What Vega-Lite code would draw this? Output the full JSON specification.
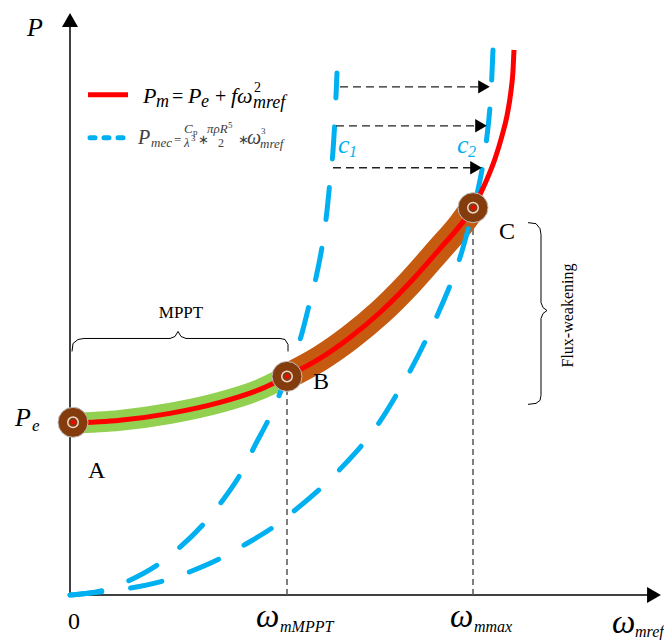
{
  "$schema": "https://vega.github.io/schema/vega-lite/v6.json",
  "width": 664,
  "height": 640,
  "autosize": {"type": "fit", "contains": "padding"},
  "padding": 0,
  "background": "white",
  "config": {"view": {"stroke": null}},
  "datasets": {
    "axes": [{"x": 0, "y": 0, "x2": 0, "y2": 570}, {"x": 0, "y": 0, "x2": 578, "y2": 0}],
    "yHead": [{"x": 0, "y": 576}],
    "xHead": [{"x": 584, "y": 0}],
    "guides": [{"x": 217, "y": 0, "y2": 219}, {"x": 403, "y": 0, "y2": 388}],
    "red": [
      {"x": 0, "y": 172}, {"x": 50, "y": 175}, {"x": 100, "y": 182}, {"x": 150, "y": 193},
      {"x": 190, "y": 206}, {"x": 217, "y": 219}, {"x": 250, "y": 237}, {"x": 280, "y": 258},
      {"x": 310, "y": 283}, {"x": 340, "y": 313}, {"x": 370, "y": 347}, {"x": 390, "y": 370},
      {"x": 403, "y": 388}, {"x": 415, "y": 412}, {"x": 425, "y": 437}, {"x": 432, "y": 460},
      {"x": 437, "y": 480}, {"x": 441, "y": 505}, {"x": 443, "y": 525}, {"x": 444, "y": 546}
    ],
    "blue": [
      {"curve": "c1", "x": 0, "y": 0}, {"curve": "c1", "x": 20, "y": 2}, {"curve": "c1", "x": 38, "y": 6},
      {"curve": "c1", "x": 58, "y": 14}, {"curve": "c1", "x": 90, "y": 32}, {"curve": "c1", "x": 110, "y": 48},
      {"curve": "c1", "x": 136, "y": 74}, {"curve": "c1", "x": 152, "y": 94}, {"curve": "c1", "x": 172, "y": 124},
      {"curve": "c1", "x": 184, "y": 148}, {"curve": "c1", "x": 201, "y": 181}, {"curve": "c1", "x": 217, "y": 220},
      {"curve": "c1", "x": 223, "y": 236}, {"curve": "c1", "x": 231, "y": 259}, {"curve": "c1", "x": 240, "y": 294},
      {"curve": "c1", "x": 246, "y": 318}, {"curve": "c1", "x": 253, "y": 355}, {"curve": "c1", "x": 257, "y": 385},
      {"curve": "c1", "x": 260, "y": 415}, {"curve": "c1", "x": 263, "y": 445}, {"curve": "c1", "x": 265, "y": 478},
      {"curve": "c1", "x": 266, "y": 500}, {"curve": "c1", "x": 267, "y": 523},
      {"curve": "c2", "x": 0, "y": 0}, {"curve": "c2", "x": 20, "y": 2}, {"curve": "c2", "x": 37, "y": 4},
      {"curve": "c2", "x": 60, "y": 7}, {"curve": "c2", "x": 96, "y": 15}, {"curve": "c2", "x": 119, "y": 23},
      {"curve": "c2", "x": 153, "y": 38}, {"curve": "c2", "x": 174, "y": 50}, {"curve": "c2", "x": 206, "y": 70},
      {"curve": "c2", "x": 225, "y": 85}, {"curve": "c2", "x": 270, "y": 126}, {"curve": "c2", "x": 310, "y": 174},
      {"curve": "c2", "x": 329, "y": 205}, {"curve": "c2", "x": 342, "y": 228}, {"curve": "c2", "x": 358, "y": 260},
      {"curve": "c2", "x": 369, "y": 284}, {"curve": "c2", "x": 383, "y": 318}, {"curve": "c2", "x": 390, "y": 338},
      {"curve": "c2", "x": 398, "y": 366}, {"curve": "c2", "x": 403, "y": 386}, {"curve": "c2", "x": 408, "y": 406},
      {"curve": "c2", "x": 412, "y": 426}, {"curve": "c2", "x": 416, "y": 452}, {"curve": "c2", "x": 419, "y": 478},
      {"curve": "c2", "x": 421, "y": 503}, {"curve": "c2", "x": 423, "y": 546}
    ],
    "arrows": [
      {"x": 270, "x2": 414, "y": 509, "hx": 414},
      {"x": 266, "x2": 411, "y": 470, "hx": 411},
      {"x": 263, "x2": 406, "y": 428, "hx": 406}
    ],
    "braces": [
      {"brace": "mppt", "i": 0, "x": 2, "y": 244}, {"brace": "mppt", "i": 1, "x": 3, "y": 252},
      {"brace": "mppt", "i": 2, "x": 8, "y": 256}, {"brace": "mppt", "i": 3, "x": 14, "y": 257},
      {"brace": "mppt", "i": 4, "x": 100, "y": 257}, {"brace": "mppt", "i": 5, "x": 105, "y": 259},
      {"brace": "mppt", "i": 6, "x": 108, "y": 264}, {"brace": "mppt", "i": 7, "x": 111, "y": 259},
      {"brace": "mppt", "i": 8, "x": 116, "y": 257}, {"brace": "mppt", "i": 9, "x": 210, "y": 257},
      {"brace": "mppt", "i": 10, "x": 215, "y": 256}, {"brace": "mppt", "i": 11, "x": 218, "y": 251},
      {"brace": "mppt", "i": 12, "x": 218, "y": 244},
      {"brace": "flux", "i": 0, "x": 458, "y": 373}, {"brace": "flux", "i": 1, "x": 466, "y": 372},
      {"brace": "flux", "i": 2, "x": 470, "y": 367}, {"brace": "flux", "i": 3, "x": 471, "y": 361},
      {"brace": "flux", "i": 4, "x": 471, "y": 293}, {"brace": "flux", "i": 5, "x": 473, "y": 288},
      {"brace": "flux", "i": 6, "x": 477, "y": 285}, {"brace": "flux", "i": 7, "x": 473, "y": 282},
      {"brace": "flux", "i": 8, "x": 471, "y": 277}, {"brace": "flux", "i": 9, "x": 471, "y": 200},
      {"brace": "flux", "i": 10, "x": 470, "y": 195}, {"brace": "flux", "i": 11, "x": 466, "y": 192},
      {"brace": "flux", "i": 12, "x": 458, "y": 191}
    ],
    "markers": [{"point": "A", "x": 3, "y": 173}, {"point": "B", "x": 217, "y": 219}, {"point": "C", "x": 403, "y": 388}],
    "pointLabels": [{"t": "A", "x": 18, "y": 117}, {"t": "B", "x": 243, "y": 206}, {"t": "C", "x": 429, "y": 357}, {"t": "0", "x": -2, "y": -34}],
    "bigItalic": [{"t": "P", "x": -43, "y": 560}, {"t": "P", "x": -55, "y": 169}],
    "smallItalic": [{"t": "e", "x": -38, "y": 164}],
    "omega": [{"t": "ω", "x": 186, "y": -32}, {"t": "ω", "x": 380, "y": -32}, {"t": "ω", "x": 542, "y": -38}],
    "omegaSub": [{"t": "mMPPT", "x": 210, "y": -37}, {"t": "mmax", "x": 404, "y": -37}, {"t": "mref", "x": 565, "y": -42}],
    "mppt": [{"t": "MPPT", "x": 111, "y": 278}],
    "flux": [{"t": "Flux-weakening", "x": 498, "y": 280}],
    "cLabels": [{"t": "c", "x": 268, "y": 443}, {"t": "c", "x": 387, "y": 443}],
    "cSubs": [{"t": "1", "x": 279, "y": 439}, {"t": "2", "x": 398, "y": 439}],
    "legendRed": [{"x": 18, "x2": 58, "y": 501}],
    "legendBlue": [{"x": 20, "x2": 57, "y": 458}],
    "eq1Italic": [{"t": "P", "x": 73, "y": 493}, {"t": "P", "x": 118, "y": 493}, {"t": "fω", "x": 161, "y": 493}],
    "eq1Upright": [{"t": "=", "x": 102, "y": 493}, {"t": "+", "x": 145, "y": 493}],
    "eq1Sub": [{"t": "m", "x": 86, "y": 489}, {"t": "e", "x": 131, "y": 489}, {"t": "mref", "x": 183, "y": 488}],
    "eq1Sup": [{"t": "2", "x": 184, "y": 504}],
    "eq2Italic": [{"t": "P", "x": 68, "y": 452}, {"t": "ω", "x": 177, "y": 452}],
    "eq2Sub": [{"t": "mec", "x": 81, "y": 449}, {"t": "mref", "x": 190, "y": 448}],
    "eq2Upright": [{"t": "=", "x": 104, "y": 452}, {"t": "∗", "x": 128, "y": 452}, {"t": "∗", "x": 168, "y": 452}],
    "eq2Small": [{"t": "C", "x": 114, "y": 463}, {"t": "λ", "x": 114, "y": 449}, {"t": "πρR", "x": 137, "y": 463}],
    "eq2Den": [{"t": "2", "x": 148, "y": 449}],
    "eq2Tiny": [{"t": "p", "x": 123, "y": 461}, {"t": "3", "x": 121, "y": 455}, {"t": "5", "x": 158, "y": 468}, {"t": "3", "x": 191, "y": 462}]
  },
  "encoding": {
    "x": {"field": "x", "type": "quantitative", "scale": {"domain": [-70, 594], "nice": false, "zero": false}, "axis": null},
    "y": {"field": "y", "type": "quantitative", "scale": {"domain": [-44, 596], "nice": false, "zero": false}, "axis": null}
  },
  "layer": [
    {"data": {"name": "axes"}, "mark": {"type": "rule", "color": "black", "strokeWidth": 1.5},
     "encoding": {"x2": {"field": "x2"}, "y2": {"field": "y2"}}},
    {"data": {"name": "yHead"}, "mark": {"type": "point", "shape": "triangle-up", "filled": true, "color": "black", "size": 256, "opacity": 1}},
    {"data": {"name": "xHead"}, "mark": {"type": "point", "shape": "triangle-right", "filled": true, "color": "black", "size": 256, "opacity": 1}},
    {"data": {"name": "guides"}, "mark": {"type": "rule", "color": "#555555", "strokeWidth": 1.5, "strokeDash": [6, 4]},
     "encoding": {"y2": {"field": "y2"}}},
    {"data": {"name": "red"}, "transform": [{"filter": "datum.x <= 217"}],
     "mark": {"type": "line", "color": "#92d050", "strokeWidth": 21, "interpolate": "monotone", "strokeCap": "butt"}, "encoding": {}},
    {"data": {"name": "red"}, "transform": [{"filter": "datum.x >= 217 && datum.x <= 403"}],
     "mark": {"type": "line", "color": "#c55a11", "strokeWidth": 26, "interpolate": "monotone", "strokeCap": "butt"}, "encoding": {}},
    {"data": {"name": "blue"}, "mark": {"type": "line", "color": "#00b0f0", "strokeWidth": 5, "strokeDash": [32, 29], "strokeCap": "round", "interpolate": "monotone"},
     "encoding": {"detail": {"field": "curve"}}},
    {"data": {"name": "red"}, "mark": {"type": "line", "color": "#ff0000", "strokeWidth": 5, "interpolate": "monotone"}, "encoding": {}},
    {"data": {"name": "arrows"}, "mark": {"type": "rule", "color": "#222222", "strokeWidth": 1.3, "strokeDash": [8, 5]},
     "encoding": {"x2": {"field": "x2"}}},
    {"data": {"name": "arrows"}, "mark": {"type": "point", "shape": "triangle-right", "filled": true, "color": "black", "size": 180, "opacity": 1},
     "encoding": {"x": {"field": "hx", "type": "quantitative", "scale": {"domain": [-70, 594], "nice": false, "zero": false}, "axis": null}}},
    {"data": {"name": "braces"}, "mark": {"type": "line", "color": "black", "strokeWidth": 1},
     "encoding": {"detail": {"field": "brace"}, "order": {"field": "i", "type": "quantitative"}}},
    {"data": {"name": "markers"}, "mark": {"type": "circle", "size": 900, "color": "#843c0c", "stroke": "#bfbfbf", "strokeWidth": 1, "opacity": 1}},
    {"data": {"name": "markers"}, "mark": {"type": "point", "shape": "circle", "filled": false, "color": "#f0d8cc", "strokeWidth": 1.5, "size": 110, "opacity": 1}},
    {"data": {"name": "markers"}, "mark": {"type": "circle", "size": 18, "color": "#ff0000", "opacity": 1}},
    {"data": {"name": "legendRed"}, "mark": {"type": "rule", "color": "#ff0000", "strokeWidth": 5},
     "encoding": {"x2": {"field": "x2"}}},
    {"data": {"name": "legendBlue"}, "mark": {"type": "rule", "color": "#00b0f0", "strokeWidth": 5, "strokeDash": [5, 9], "strokeCap": "round"},
     "encoding": {"x2": {"field": "x2"}}},
    {"data": {"name": "pointLabels"}, "mark": {"type": "text", "font": "Liberation Serif", "fontSize": 24, "align": "left", "baseline": "alphabetic", "color": "black"},
     "encoding": {"text": {"field": "t"}}},
    {"data": {"name": "bigItalic"}, "mark": {"type": "text", "font": "Liberation Serif", "fontStyle": "italic", "fontSize": 26, "align": "left", "baseline": "alphabetic", "color": "black"},
     "encoding": {"text": {"field": "t"}}},
    {"data": {"name": "smallItalic"}, "mark": {"type": "text", "font": "Liberation Serif", "fontStyle": "italic", "fontSize": 17, "align": "left", "baseline": "alphabetic", "color": "black"},
     "encoding": {"text": {"field": "t"}}},
    {"data": {"name": "omega"}, "mark": {"type": "text", "font": "Liberation Serif", "fontStyle": "italic", "fontSize": 33, "align": "left", "baseline": "alphabetic", "color": "black"},
     "encoding": {"text": {"field": "t"}}},
    {"data": {"name": "omegaSub"}, "mark": {"type": "text", "font": "Liberation Serif", "fontStyle": "italic", "fontSize": 16, "align": "left", "baseline": "alphabetic", "color": "black"},
     "encoding": {"text": {"field": "t"}}},
    {"data": {"name": "mppt"}, "mark": {"type": "text", "font": "Liberation Serif", "fontSize": 17, "align": "center", "baseline": "alphabetic", "color": "black"},
     "encoding": {"text": {"field": "t"}}},
    {"data": {"name": "flux"}, "mark": {"type": "text", "font": "Liberation Serif", "fontSize": 16, "align": "center", "baseline": "middle", "angle": 270, "color": "black"},
     "encoding": {"text": {"field": "t"}}},
    {"data": {"name": "cLabels"}, "mark": {"type": "text", "font": "Liberation Serif", "fontStyle": "italic", "fontSize": 26, "align": "left", "baseline": "alphabetic", "color": "#00b0f0"},
     "encoding": {"text": {"field": "t"}}},
    {"data": {"name": "cSubs"}, "mark": {"type": "text", "font": "Liberation Serif", "fontStyle": "italic", "fontSize": 16, "align": "left", "baseline": "alphabetic", "color": "#00b0f0"},
     "encoding": {"text": {"field": "t"}}},
    {"data": {"name": "eq1Italic"}, "mark": {"type": "text", "font": "Liberation Serif", "fontStyle": "italic", "fontSize": 22, "align": "left", "baseline": "alphabetic", "color": "black"},
     "encoding": {"text": {"field": "t"}}},
    {"data": {"name": "eq1Upright"}, "mark": {"type": "text", "font": "Liberation Serif", "fontSize": 20, "align": "left", "baseline": "alphabetic", "color": "black"},
     "encoding": {"text": {"field": "t"}}},
    {"data": {"name": "eq1Sub"}, "mark": {"type": "text", "font": "Liberation Serif", "fontStyle": "italic", "fontSize": 18, "align": "left", "baseline": "alphabetic", "color": "black"},
     "encoding": {"text": {"field": "t"}}},
    {"data": {"name": "eq1Sup"}, "mark": {"type": "text", "font": "Liberation Serif", "fontSize": 14, "align": "left", "baseline": "alphabetic", "color": "black"},
     "encoding": {"text": {"field": "t"}}},
    {"data": {"name": "eq2Italic"}, "mark": {"type": "text", "font": "Liberation Serif", "fontStyle": "italic", "fontSize": 20, "align": "left", "baseline": "alphabetic", "color": "#404040"},
     "encoding": {"text": {"field": "t"}}},
    {"data": {"name": "eq2Sub"}, "mark": {"type": "text", "font": "Liberation Serif", "fontStyle": "italic", "fontSize": 13, "align": "left", "baseline": "alphabetic", "color": "#404040"},
     "encoding": {"text": {"field": "t"}}},
    {"data": {"name": "eq2Upright"}, "mark": {"type": "text", "font": "Liberation Serif", "fontSize": 13, "align": "left", "baseline": "alphabetic", "color": "#404040"},
     "encoding": {"text": {"field": "t"}}},
    {"data": {"name": "eq2Small"}, "mark": {"type": "text", "font": "Liberation Serif", "fontStyle": "italic", "fontSize": 13, "align": "left", "baseline": "alphabetic", "color": "#404040"},
     "encoding": {"text": {"field": "t"}}},
    {"data": {"name": "eq2Den"}, "mark": {"type": "text", "font": "Liberation Serif", "fontSize": 12, "align": "left", "baseline": "alphabetic", "color": "#404040"},
     "encoding": {"text": {"field": "t"}}},
    {"data": {"name": "eq2Tiny"}, "mark": {"type": "text", "font": "Liberation Serif", "fontSize": 9, "align": "left", "baseline": "alphabetic", "color": "#404040"},
     "encoding": {"text": {"field": "t"}}}
  ]
}
